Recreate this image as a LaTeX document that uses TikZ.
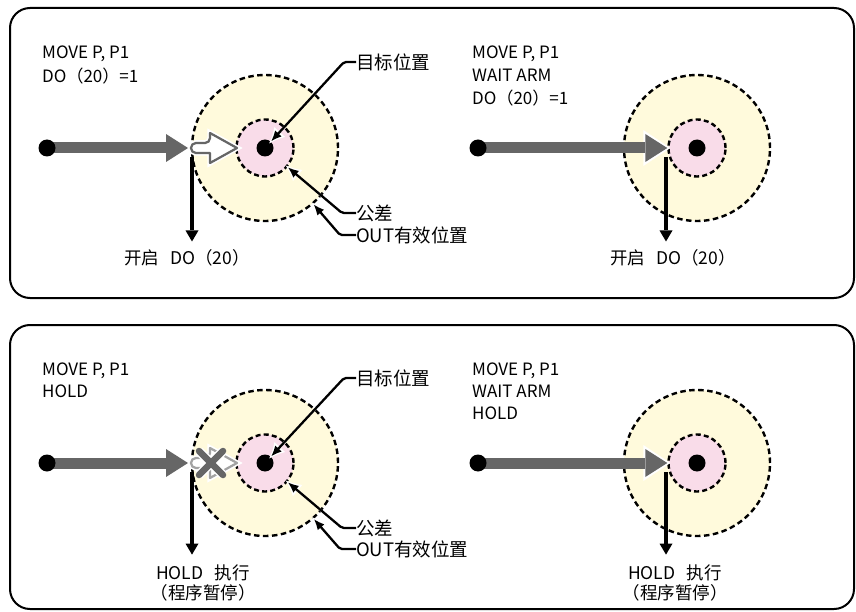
\documentclass[tikz,border=0pt]{standalone}
\usepackage{fontspec}
\setmainfont{Noto Sans CJK SC}
\usetikzlibrary{arrows.meta,calc}
\definecolor{zoneY}{HTML}{FFFADC}
\definecolor{zoneP}{HTML}{F9DCE9}
\definecolor{track}{HTML}{666666}
\definecolor{trackL}{HTML}{A3A3A3}
\tikzset{
  box/.style={draw=black, line width=2pt, rounded corners=20pt},
  outzone/.style={circle, draw=black, fill=zoneY, line width=2.4pt, dash pattern=on 5.5pt off 3.5pt, minimum size=146pt, inner sep=0pt},
  tolzone/.style={circle, draw=black, fill=zoneP, line width=2.4pt, dash pattern=on 5pt off 3.2pt, minimum size=57pt, inner sep=0pt},
  pt/.style={circle, fill=black, inner sep=0pt, minimum size=17pt},
  move/.style={line width=11pt, draw=track, -{Triangle[length=22pt, width=28pt, line width=0pt]}},
  movehalo/.style={move, preaction={draw=white, line width=11pt, shorten >=-3pt, -{Triangle[length=27pt, width=36pt, line width=0pt]}}},
  sig/.style={line width=4.5pt, -{Triangle[length=11pt, width=13pt, line width=0pt]}},
  lead/.style={line width=2.3pt, rounded corners=2pt, -{Latex[length=11pt, width=9pt]},
    preaction={draw=white, line width=2.3pt, shorten >=-3pt, -{Latex[length=16pt, width=15pt]}}},
  hollow/.style={draw=track, line width=2.2pt, fill=white, line join=round, preaction={draw=white, line width=5.5pt}},
  cross/.style={draw=track, line width=6.5pt, line cap=round, preaction={draw=white, line width=9.5pt}},
  code/.style={anchor=base west, inner sep=0pt, font=\fontsize{17}{20}\selectfont},
  lab/.style={inner sep=0pt, align=center, font=\fontsize{17.5}{20}\selectfont},
  tag/.style={inner sep=0pt, anchor=west, font=\fontsize{18.5}{20}\selectfont}
}
\newcommand{\gap}{\hspace{0.65em}}
\begin{document}
\begin{tikzpicture}[x=1pt, y=-1pt]
  \useasboundingbox (0,0) rectangle (856,612);
  \draw[box] (10,8) rectangle (854,298);
  \draw[box] (10,325) rectangle (854,609);

  % top left: DO right after MOVE
  \node[outzone] (oz1) at (265,148) {};
  \node[tolzone] (tz1) at (265,148) {};
  \node[pt] (c1) at (265,148) {};
  \coordinate (s1) at (47,148);
  \coordinate (t1) at (188,148);
  \draw[move] (s1) -- (t1);
  \node[pt] (p1) at (s1) {};
  \draw[hollow] (237,148) -- (210,163) -- (210,153) [rounded corners=4.9pt] -- (191,153) -- (191,143) -- (210,143) [sharp corners] -- (210,133) -- cycle;
  \node[code] (m1) at (42,59) {MOVE P, P1};
  \node[code] (m2) at (42,83) {DO（20）=1};
  \node[lab] (on1) at (187,258) {开启\gap DO（20）};
  \coordinate (d1) at (192,157);
  \draw[sig, shorten >=8pt] (d1) -- (d1 |- on1.north);
  \node[tag] (tg1) at (356,62) {目标位置};
  \node[tag] (tl1) at (356,213) {公差};
  \node[tag] (ov1) at (356,235) {OUT有效位置};
  \draw[lead] (tg1.west) -- ++(-12,0) -- (c1);
  \draw[lead] (tl1.west) -- ++(-14,0) -- (tz1);
  \draw[lead] (ov1.west) -- ++(-16,0) -- (oz1);

  % top right: DO after WAIT ARM
  \node[outzone] (oz2) at (697,148) {};
  \node[tolzone] (tz2) at (697,148) {};
  \node[pt] (c2) at (697,148) {};
  \coordinate (s2) at (478,148);
  \draw[movehalo] (s2) -- (tz2.west);
  \node[pt] (p2) at (s2) {};
  \node[code] (m3) at (472,59) {MOVE P, P1};
  \node[code] (m4) at (472,82) {WAIT ARM};
  \node[code] (m5) at (472,105) {DO（20）=1};
  \node[lab] (on2) at (673,258) {开启\gap DO（20）};
  \coordinate (d2) at (666,157);
  \draw[sig, shorten >=8pt] (d2) -- (d2 |- on2.north);

  % bottom left: HOLD right after MOVE
  \node[outzone] (oz3) at (265,463) {};
  \node[tolzone] (tz3) at (265,463) {};
  \node[pt] (c3) at (265,463) {};
  \coordinate (s3) at (47,463);
  \coordinate (t3) at (188,463);
  \draw[move] (s3) -- (t3);
  \node[pt] (p3) at (s3) {};
  \draw[hollow, draw=trackL] (237,463) -- (210,478) -- (210,468) [rounded corners=4.9pt] -- (191,468) -- (191,458) -- (210,458) [sharp corners] -- (210,448) -- cycle;
  \draw[cross] (199,451) -- (223,475) (199,475) -- (223,451);
  \node[code] (m6) at (42,375) {MOVE P, P1};
  \node[code] (m7) at (42,397) {HOLD};
  \node[lab] (ho1) at (203,583) {HOLD\gap 执行\\（程序暂停）};
  \coordinate (d3) at (192,472);
  \draw[sig, shorten >=10pt] (d3) -- (d3 |- ho1.north);
  \node[tag] (tg3) at (356,378) {目标位置};
  \node[tag] (tl3) at (356,528) {公差};
  \node[tag] (ov3) at (356,549) {OUT有效位置};
  \draw[lead] (tg3.west) -- ++(-12,0) -- (c3);
  \draw[lead] (tl3.west) -- ++(-14,0) -- (tz3);
  \draw[lead] (ov3.west) -- ++(-16,0) -- (oz3);

  % bottom right: HOLD after WAIT ARM
  \node[outzone] (oz4) at (697,463) {};
  \node[tolzone] (tz4) at (697,463) {};
  \node[pt] (c4) at (697,463) {};
  \coordinate (s4) at (478,463);
  \draw[movehalo] (s4) -- (tz4.west);
  \node[pt] (p4) at (s4) {};
  \node[code] (m8) at (472,375) {MOVE P, P1};
  \node[code] (m9) at (472,397) {WAIT ARM};
  \node[code] (m10) at (472,419) {HOLD};
  \node[lab] (ho2) at (675,583) {HOLD\gap 执行\\（程序暂停）};
  \coordinate (d4) at (666,472);
  \draw[sig, shorten >=10pt] (d4) -- (d4 |- ho2.north);
\end{tikzpicture}
\end{document}
